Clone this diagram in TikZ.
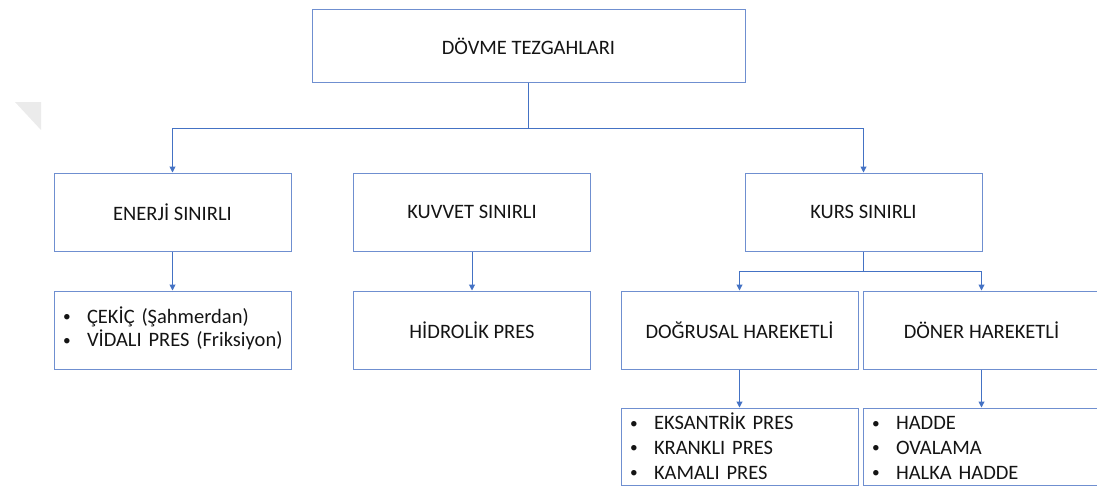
\documentclass[tikz,border=0pt]{standalone}
\usepackage{fontspec}
\usepackage{graphicx}
\setmainfont{Carlito}
\usetikzlibrary{arrows.meta}
\definecolor{lineblue}{HTML}{4472C4}
\definecolor{boxblue}{HTML}{6F8FD0}
\definecolor{txt}{HTML}{141414}
\tikzset{
  box/.style={draw=boxblue, line width=1pt, minimum width=237pt, minimum height=78pt,
    inner sep=0pt, text=txt, font=\fontsize{20.5}{24}\selectfont},
  listbox/.style={box, align=left, text width=223pt},
  conn/.style={draw=lineblue, line width=1pt},
  arr/.style={conn, -{Triangle[length=6pt,width=6pt]}},
}
\newcommand{\bul}{\hspace{2pt}\raisebox{1.5pt}{\scalebox{0.75}{•}}}
\newenvironment{blist}[1]{\renewcommand{\arraystretch}{#1}\begin{tabular}{@{}p{26pt}@{}l@{}}}{\end{tabular}}
\begin{document}
\begin{tikzpicture}[x=1pt,y=-1pt]
\useasboundingbox (0,0) rectangle (1097,487);
\clip (0,0) rectangle (1097,487);
\fill[black!8] (15,102) -- (41,102) -- (41,130) -- cycle;
\node[box, minimum width=433pt, minimum height=72pt] (top) at (528.5,46) {DÖVME TEZGAHLARI};
\node[box] (enerji) at (172.5,212) {ENERJİ SINIRLI};
\node[box] (kuvvet) at (472,212) {KUVVET SINIRLI};
\node[box] (kurs) at (863.5,212) {KURS SINIRLI};
\node[listbox] (cekic) at (172.5,330) {\begin{blist}{0.93}\bul & ÇEKİÇ (Şahmerdan)\\ \bul & VİDALI PRES (Friksiyon)\end{blist}};
\node[box] (hidrolik) at (472,330) {HİDROLİK PRES};
\node[box] (dogrusal) at (739.5,330) {DOĞRUSAL HAREKETLİ};
\node[box] (doner) at (981.5,330) {DÖNER HAREKETLİ};
\node[listbox, minimum height=77pt] (eks) at (739.5,446.5) {\raisebox{-3pt}[\height][\depth]{\begin{blist}{1.03}\bul & EKSANTRİK PRES\\ \bul & KRANKLI PRES\\ \bul & KAMALI PRES\end{blist}}};
\node[listbox, minimum height=77pt] (hadde) at (981.5,446.5) {\raisebox{-3pt}[\height][\depth]{\begin{blist}{1.03}\bul & HADDE\\ \bul & OVALAMA\\ \bul & HALKA HADDE\end{blist}}};
\coordinate (j1) at (528.5,128);
\coordinate (j2) at (863.5,271);
\draw[conn] (top.south) -- (j1);
\draw[arr] (j1) -| (enerji.north);
\draw[arr] (j1) -| (kurs.north);
\draw[arr] (enerji.south) -- (cekic.north);
\draw[arr] (kuvvet.south) -- (hidrolik.north);
\draw[conn] (kurs.south) -- (j2);
\draw[arr] (j2) -| (dogrusal.north);
\draw[arr] (j2) -| (doner.north);
\draw[arr] (dogrusal.south) -- (eks.north);
\draw[arr] (doner.south) -- (hadde.north);
\end{tikzpicture}
\end{document}
